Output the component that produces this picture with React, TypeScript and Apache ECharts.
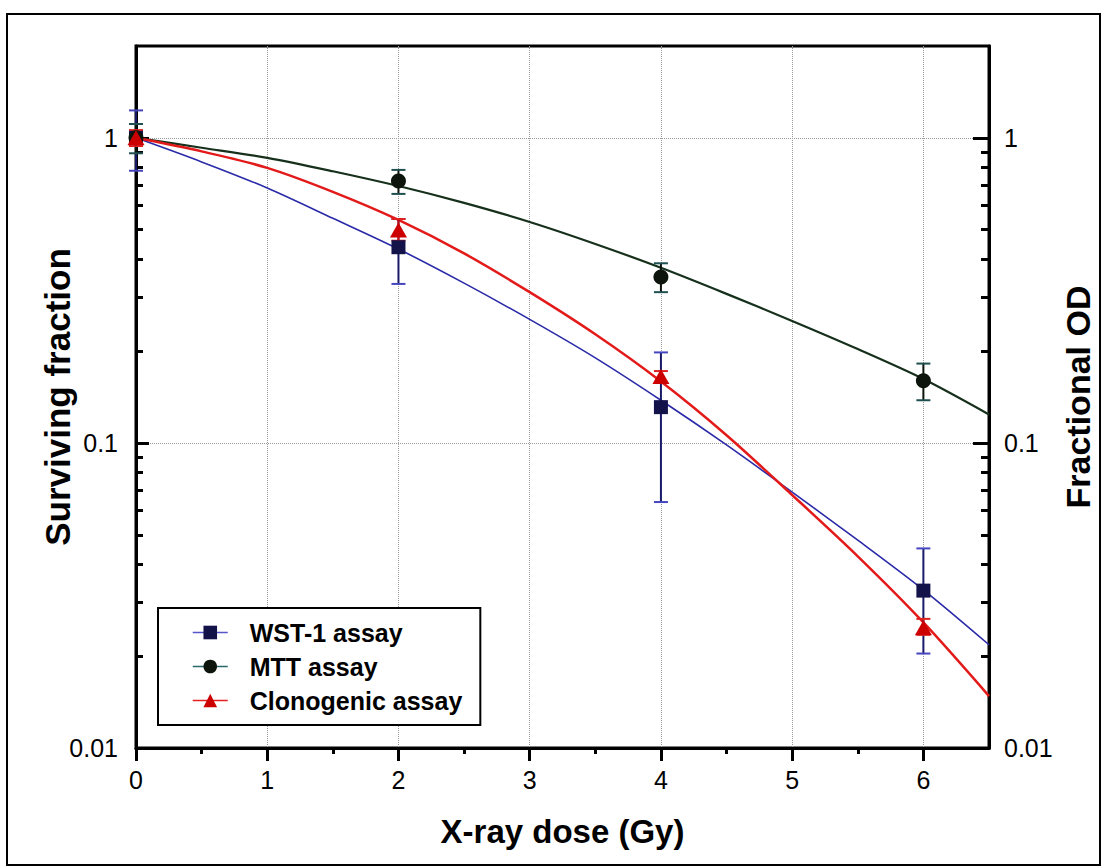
import React, { useEffect, useRef } from "react";
import * as echarts from "echarts";

// Measured points (dose in Gy)
const doses = [0, 2, 4, 6];
const wstMean = [1.0, 0.438, 0.131, 0.0328];
const wstLow = [0.78, 0.332, 0.064, 0.0204];
const wstHigh = [1.23, 0.542, 0.198, 0.0451];
const mttMean = [1.0, 0.722, 0.35, 0.16];
const mttLow = [0.89, 0.655, 0.312, 0.138];
const mttHigh = [1.11, 0.785, 0.388, 0.182];
const clonoMean = [1.0, 0.499, 0.165, 0.0248];
const clonoLow = [0.94, 0.46, 0.158, 0.0235];
const clonoHigh = [1.06, 0.542, 0.172, 0.0265];

// Fitted curves
const fitDoses = [0, 0.5, 1, 1.5, 2, 2.5, 3, 3.5, 4, 4.5, 5, 5.5, 6, 6.5];
const wstFit = [1.0, 0.834, 0.685, 0.545, 0.432, 0.334, 0.254, 0.19, 0.138, 0.0985, 0.069, 0.048, 0.033, 0.0218];
const mttFit = [1.0, 0.928, 0.86, 0.777, 0.695, 0.612, 0.53, 0.449, 0.375, 0.308, 0.251, 0.203, 0.162, 0.124];
const clonoFit = [1.0, 0.903, 0.797, 0.665, 0.538, 0.418, 0.312, 0.227, 0.159, 0.106, 0.0675, 0.0425, 0.0258, 0.0148];

// Axis ticks
const xMajorTicks = [0, 1, 2, 3, 4, 5, 6];
const xMinorTicks = [0.5, 1.5, 2.5, 3.5, 4.5, 5.5];
const yMajorTicks = [0.01, 0.1, 1];
const yMinorTicks = [0.02, 0.03, 0.04, 0.05, 0.06, 0.07, 0.08, 0.09, 0.2, 0.3, 0.4, 0.5, 0.6, 0.7, 0.8, 0.9];

const seriesNames = ["WST-1 assay", "MTT assay", "Clonogenic assay"];

const FONT = "Liberation Sans, Arial, Helvetica, sans-serif";

function errorSeries(low: number[], high: number[], stem: string, cap: string) {
  return {
    type: "custom",
    xAxisIndex: 0,
    yAxisIndex: 0,
    z: 3,
    silent: true,
    clip: false,
    data: doses.map((d, i) => [d, low[i], high[i]]),
    encode: { x: 0, y: [1, 2] },
    renderItem: (params: any, api: any) => {
      const x = api.value(0);
      const lo = api.coord([x, api.value(1)]);
      const hi = api.coord([x, api.value(2)]);
      const w = 7;
      return {
        type: "group",
        children: [
          { type: "line", shape: { x1: lo[0], y1: lo[1], x2: hi[0], y2: hi[1] }, style: { stroke: stem, lineWidth: 2 } },
          { type: "line", shape: { x1: hi[0] - w, y1: hi[1], x2: hi[0] + w, y2: hi[1] }, style: { stroke: cap, lineWidth: 2 } },
          { type: "line", shape: { x1: lo[0] - w, y1: lo[1], x2: lo[0] + w, y2: lo[1] }, style: { stroke: cap, lineWidth: 2 } },
        ],
      };
    },
  };
}

function fitSeries(values: number[], color: string, width: number) {
  return {
    type: "line",
    xAxisIndex: 0,
    yAxisIndex: 0,
    data: fitDoses.map((d, i) => [d, values[i]]),
    showSymbol: false,
    symbol: "none",
    smooth: 0.3,
    z: 2,
    silent: true,
    lineStyle: { color, width },
  };
}

function pointSeries(name: string, values: number[], symbol: string, size: any, color: string) {
  return {
    type: "line",
    name,
    xAxisIndex: 0,
    yAxisIndex: 0,
    data: doses.map((d, i) => [d, values[i]]),
    symbol,
    symbolSize: size,
    showSymbol: true,
    showAllSymbol: true,
    clip: false,
    z: 5,
    itemStyle: { color, opacity: 1 },
    lineStyle: { width: 0, opacity: 0 },
  };
}

const fmt = (v: number) => String(Number(Number(v).toPrecision(6)));

export default function App() {
  const ref = useRef<HTMLDivElement>(null);
  useEffect(() => {
    if (!ref.current) return;
    document.body.style.margin = "0";
    document.body.style.overflow = "hidden";
    const chart = echarts.init(ref.current, undefined, { renderer: "svg" });
    const yBase = { type: "log", logBase: 10, min: 0.01, max: 2, gridIndex: 0 };
    const option: any = {
      animation: false,
      backgroundColor: "#ffffff",
      grid: {
        left: 136,
        top: 46,
        right: 110,
        bottom: 119,
        show: true,
        borderColor: "#000",
        borderWidth: 3,
        backgroundColor: "transparent",
      },
      xAxis: [
        {
          type: "value",
          min: 0,
          max: 6.5,
          interval: 1,
          position: "bottom",
          name: "X-ray dose (Gy)",
          nameLocation: "middle",
          nameGap: 67,
          nameMoveOverlap: false,
          nameTextStyle: { fontFamily: FONT, fontSize: 33, fontWeight: "bold", color: "#000" },
          axisLine: { show: true, lineStyle: { color: "#000", width: 3 } },
          axisTick: { show: true, inside: false, length: 13, customValues: xMajorTicks, lineStyle: { color: "#000", width: 3 } },
          axisLabel: { customValues: xMajorTicks, fontFamily: FONT, fontSize: 25, color: "#000", margin: 19, formatter: fmt },
          splitLine: { show: true, lineStyle: { color: "#9a9a9a", width: 1, type: "dotted" } },
        },
        {
          type: "value",
          min: 0,
          max: 6.5,
          position: "bottom",
          axisLine: { show: false },
          axisTick: { show: true, inside: false, length: 6, customValues: xMinorTicks, lineStyle: { color: "#000", width: 3 } },
          axisLabel: { show: false },
          splitLine: { show: false },
        },
      ],
      yAxis: [
        {
          ...yBase,
          position: "left",
          name: "Surviving fraction",
          nameLocation: "middle",
          nameGap: 61,
          nameMoveOverlap: false,
          nameTextStyle: { fontFamily: FONT, fontSize: 35, fontWeight: "bold", color: "#000" },
          axisLine: { show: true, lineStyle: { color: "#000", width: 3 } },
          axisTick: { show: true, inside: true, length: 13, customValues: yMajorTicks, lineStyle: { color: "#000", width: 3 } },
          axisLabel: { customValues: yMajorTicks, fontFamily: FONT, fontSize: 25, color: "#000", margin: 18, formatter: fmt },
          splitLine: { show: true, lineStyle: { color: "#9a9a9a", width: 1, type: "dotted" } },
        },
        {
          ...yBase,
          position: "left",
          axisLine: { show: false },
          axisTick: { show: true, inside: true, length: 7, customValues: yMinorTicks, lineStyle: { color: "#000", width: 3 } },
          axisLabel: { show: false },
          splitLine: { show: false },
        },
        {
          ...yBase,
          position: "right",
          name: "Fractional OD",
          nameLocation: "middle",
          nameGap: 72,
          nameMoveOverlap: false,
          nameTextStyle: { fontFamily: FONT, fontSize: 34, fontWeight: "bold", color: "#000" },
          axisLine: { show: true, lineStyle: { color: "#000", width: 3 } },
          axisTick: { show: true, inside: true, length: 16, customValues: yMajorTicks, lineStyle: { color: "#000", width: 3 } },
          axisLabel: { customValues: yMajorTicks, fontFamily: FONT, fontSize: 25, color: "#000", margin: 15, formatter: fmt },
          splitLine: { show: false },
        },
        {
          ...yBase,
          position: "right",
          axisLine: { show: false },
          axisTick: { show: true, inside: true, length: 8, customValues: yMinorTicks, lineStyle: { color: "#000", width: 3 } },
          axisLabel: { show: false },
          splitLine: { show: false },
        },
      ],
      legend: {
        show: true,
        orient: "vertical",
        left: 158,
        top: 608,
        padding: [12, 18, 12, 34],
        itemWidth: 35,
        itemHeight: 17,
        itemGap: 9,
        borderColor: "#000",
        borderWidth: 2,
        backgroundColor: "#fff",
        selectedMode: false,
        textStyle: { fontFamily: FONT, fontSize: 25, fontWeight: "bold", color: "#000", lineHeight: 24, padding: [0, 0, 0, 17] },
        data: [
          { name: seriesNames[0], lineStyle: { color: "#5555cc", width: 1.5, opacity: 1 } },
          { name: seriesNames[1], lineStyle: { color: "#2a6a6a", width: 1.5, opacity: 1 } },
          { name: seriesNames[2], lineStyle: { color: "#e52020", width: 1.5, opacity: 1 } },
        ],
      },
      graphic: [
        {
          type: "rect",
          shape: { x: 7, y: 14, width: 1093, height: 851 },
          style: { fill: "none", stroke: "#000", lineWidth: 2 },
          silent: true,
          z: -1,
        },
      ],
      series: [
        fitSeries(mttFit, "#16301c", 2.2),
        fitSeries(wstFit, "#2a2aa8", 1.6),
        fitSeries(clonoFit, "#e31a1a", 2.5),
        errorSeries(wstLow, wstHigh, "#1a1a6a", "#4545c0"),
        errorSeries(mttLow, mttHigh, "#0c140c", "#1f4f4f"),
        errorSeries(clonoLow, clonoHigh, "#cc1010", "#dd2020"),
        pointSeries(seriesNames[0], wstMean, "rect", 14, "#13134a"),
        pointSeries(seriesNames[1], mttMean, "circle", 15, "#0c140c"),
        pointSeries(seriesNames[2], clonoMean, "triangle", [17, 15], "#cc0000"),
      ],
    };
    chart.setOption(option);
    return () => chart.dispose();
  }, []);
  return (
    <div
      ref={ref}
      style={{ position: "absolute", left: 0, top: 0, width: 1103, height: 867, background: "#fff" }}
    />
  );
}
